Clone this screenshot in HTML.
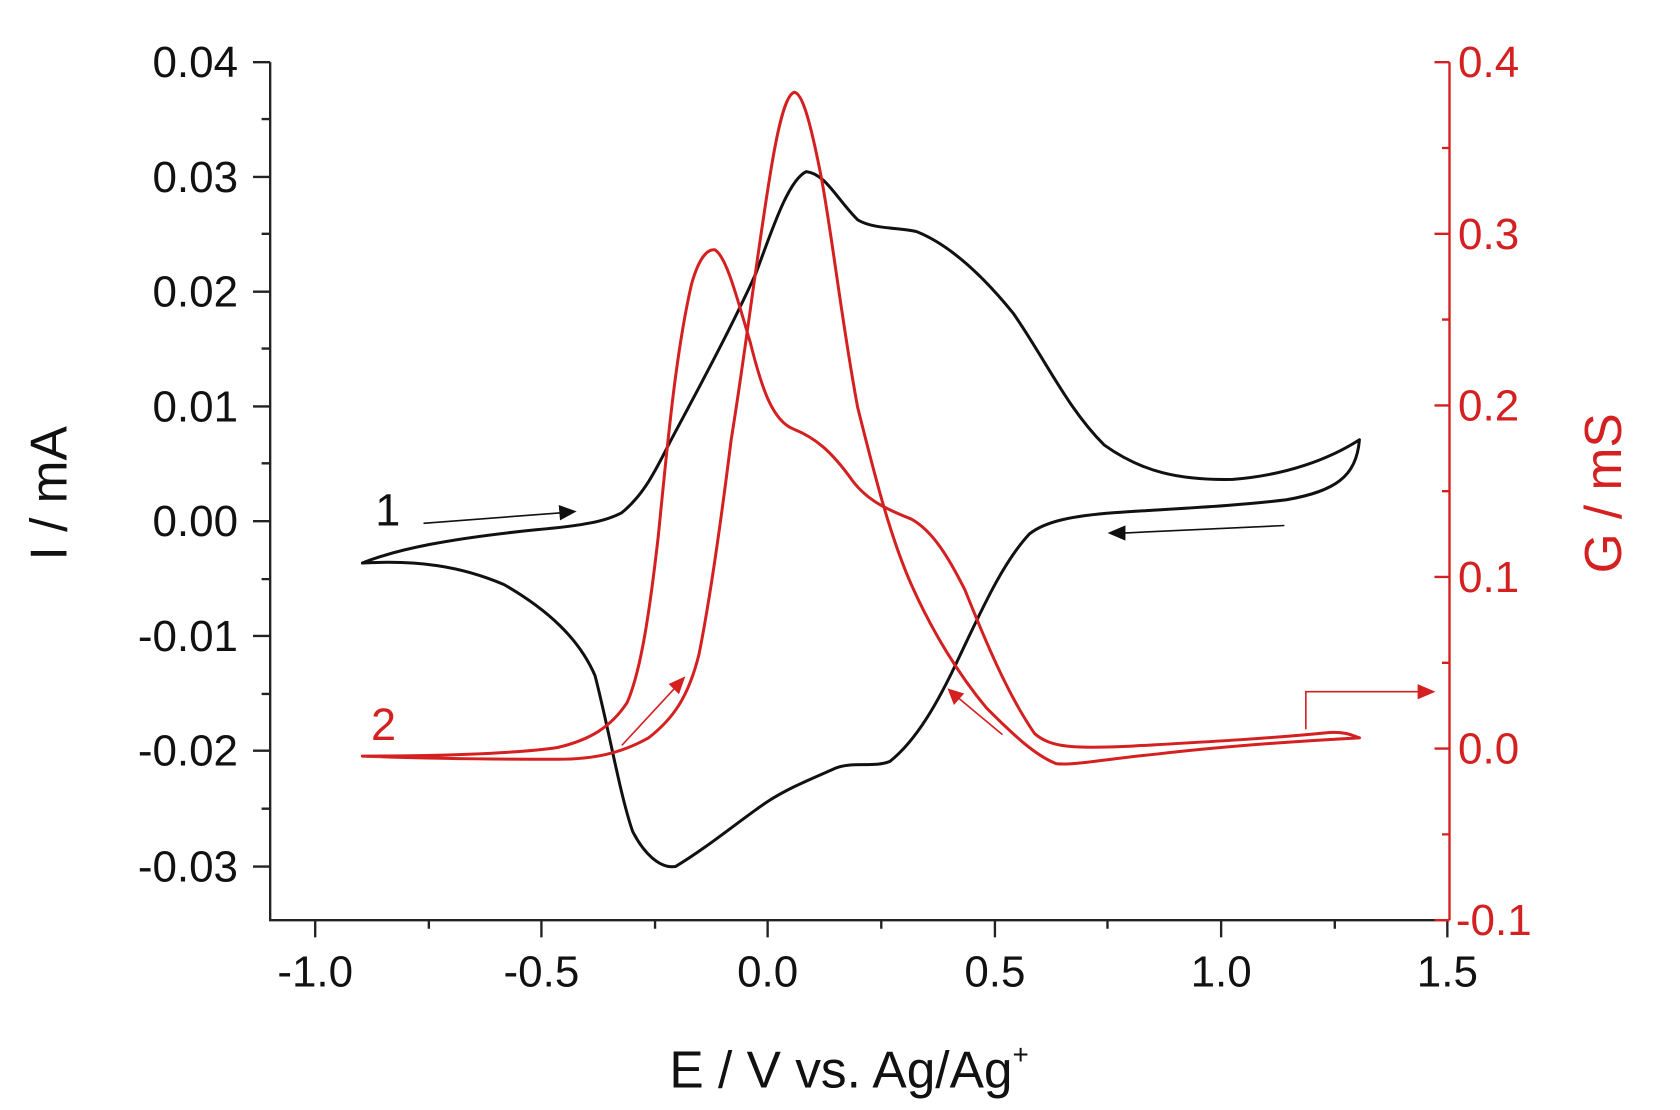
<!DOCTYPE html>
<html><head><style>html,body{margin:0;padding:0;background:#fff}svg{display:block}</style></head><body>
<svg width="1680" height="1110" viewBox="0 0 1567 1035" preserveAspectRatio="none" xmlns="http://www.w3.org/2000/svg" font-family="Liberation Sans, Arial, sans-serif">
<rect width="1567" height="1035" fill="#fff"/>
<g stroke="#222" stroke-width="2.2" fill="none">
<path d="M252,58 V858 H1340"/>
<path d="M236,58H252M236,165H252M236,272H252M236,379H252M236,486H252M236,593H252M236,700H252M236,808H252"/>
<path d="M244,111H252M244,218H252M244,325H252M244,432H252M244,540H252M244,647H252M244,754H252"/>
<path d="M294,858V874M505,858V874M716,858V874M928,858V874M1139,858V874M1350,858V874"/>
<path d="M400,858V866M611,858V866M822,858V866M1033,858V866M1245,858V866"/>
</g>
<g stroke="#d42020" stroke-width="2.2" fill="none">
<path d="M1352,58V858M1340,858H1352"/>
<path d="M1338,58H1352M1338,218H1352M1338,378H1352M1338,538H1352M1338,698H1352M1338,858H1352"/>
<path d="M1345,138H1352M1345,298H1352M1345,458H1352M1345,618H1352M1345,778H1352"/>
</g>
<g font-size="41" fill="#111" text-anchor="end">
<text x="222" y="72">0.04</text><text x="222" y="179">0.03</text><text x="222" y="286">0.02</text><text x="222" y="393">0.01</text><text x="222" y="500">0.00</text><text x="222" y="607">-0.01</text><text x="222" y="714">-0.02</text><text x="222" y="822">-0.03</text>
</g>
<g font-size="41" fill="#111" text-anchor="middle">
<text x="294" y="920">-1.0</text><text x="505" y="920">-0.5</text><text x="716" y="920">0.0</text><text x="928" y="920">0.5</text><text x="1139" y="920">1.0</text><text x="1350" y="920">1.5</text>
</g>
<g font-size="41" fill="#d42020">
<text x="1360" y="72">0.4</text><text x="1360" y="232">0.3</text><text x="1360" y="392">0.2</text><text x="1360" y="552">0.1</text><text x="1360" y="712">0.0</text><text x="1358" y="872">-0.1</text>
</g>
<text x="792" y="1014" font-size="48" fill="#111" text-anchor="middle">E / V vs. Ag/Ag<tspan font-size="26" dy="-22">+</tspan></text>
<text transform="translate(62,460) rotate(-90)" font-size="48" fill="#111" text-anchor="middle">I / mA</text>
<text transform="translate(1512,460) rotate(-90)" font-size="48" fill="#d42020" text-anchor="middle">G / mS</text>
<path fill="none" stroke="#111" stroke-width="2.8" stroke-linejoin="round" d="M338,525 C370,512 420,502 500,494 C545,490 565,486 580,478 C600,462 612,438 625,412 C650,365 680,310 705,255 C720,215 735,168 752,160 C770,162 780,185 800,205 C815,214 840,212 855,216 C885,228 915,255 945,292 C975,335 995,380 1030,415 C1065,440 1100,448 1150,447 C1200,443 1240,428 1268,410 C1265,445 1245,458 1200,466 C1150,472 1100,474 1040,478 C1000,481 975,486 960,498 C935,525 915,570 895,612 C875,655 855,690 830,710 C815,716 795,710 780,716 C755,727 735,735 715,748 C690,765 660,790 630,808 C615,810 600,795 590,775 C578,740 568,680 555,630 C540,595 510,568 470,545 C430,528 390,522 338,525 Z"/>
<path fill="none" stroke="#d42020" stroke-width="2.8" stroke-linejoin="round" d="M338,705 C400,705 480,703 520,697 C550,690 570,678 585,655 C598,625 606,570 614,500 C622,420 630,330 645,265 C652,240 660,232 667,233 C678,240 688,280 700,320 C710,360 720,392 740,400 C760,408 775,420 795,448 C810,468 830,476 850,484 C870,495 885,520 900,550 C918,595 940,648 965,684 C980,697 1000,698 1050,696 C1120,692 1180,689 1240,683 C1255,682 1262,686 1268,688 C1230,690 1150,695 1080,703 C1030,708 1000,714 985,712 C965,704 945,685 920,660 C895,630 870,590 850,545 C830,500 815,440 800,380 C785,300 775,210 765,160 C755,110 748,87 741,86 C733,88 726,115 718,165 C705,245 695,330 682,410 C672,490 662,560 652,610 C642,650 628,670 605,688 C580,702 555,708 520,708 C450,708 390,707 338,705 Z"/>
<text x="350" y="490" font-size="42" fill="#111">1</text>
<text x="346" y="690" font-size="42" fill="#d42020">2</text>
<g stroke="#111" stroke-width="1.5" fill="#111">
<path d="M395,488 L525,478" fill="none"/><path d="M536,477 L522,472 L523,484 Z"/>
<path d="M1198,490 L1048,497" fill="none"/><path d="M1035,497 L1049,491 L1049,503 Z"/>
</g>
<g stroke="#d42020" stroke-width="1.5" fill="#d42020">
<path d="M580,695 L630,641" fill="none"/><path d="M638,632 L625,638 L633,646 Z"/>
<path d="M935,685 L893,650" fill="none"/><path d="M885,643 L890,656 L898,647 Z"/>
<path d="M1218,680 V645 H1325" fill="none"/><path d="M1337,645 L1323,639 L1323,651 Z"/>
</g>
</svg>
</body></html>
